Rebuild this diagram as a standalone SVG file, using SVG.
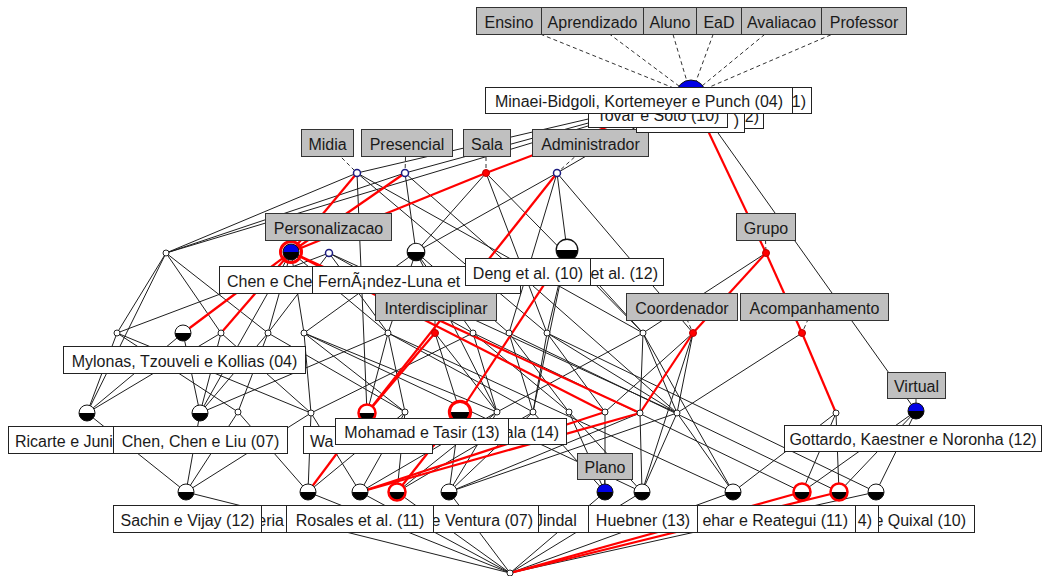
<svg xmlns="http://www.w3.org/2000/svg" width="1042" height="576" viewBox="0 0 1042 576">
<style>
  .e line{stroke:#1e1e1e;stroke-width:1}
  .r line{stroke:#f00;stroke-width:2.2}
  .d line{stroke:#333;stroke-width:1;stroke-dasharray:4 3}
  .attr rect{fill:#c0c0c0;stroke:#333;stroke-width:1}
  .obj rect{fill:#fff;stroke:#222;stroke-width:1}
  text{font-family:"Liberation Sans",Arial,sans-serif;font-size:16px;fill:#1a1a1a}
  .c{text-anchor:middle}
  .en{text-anchor:end}
</style>
<defs>
  <g id="half"><circle r="8" fill="#fff"/><path d="M-8,0 A8,8 0 0 0 8,0 Z" fill="#000"/><circle r="8" fill="none" stroke="#111"/></g>
  <g id="halfR"><circle r="8" fill="#fff"/><path d="M-8,0 A8,8 0 0 0 8,0 Z" fill="#000"/><circle r="8.5" fill="none" stroke="#f00" stroke-width="2.5"/></g>
  <g id="blue"><circle r="8" fill="#0000e6"/><path d="M-8,0 A8,8 0 0 0 8,0 Z" fill="#000"/><circle r="8" fill="none" stroke="#111"/></g>
  <circle id="sm" r="3" fill="#fff" stroke="#222"/>
  <circle id="sn" r="3.5" fill="#fff" stroke="#1c1c80" stroke-width="1.5"/>
  <circle id="sr" r="3.5" fill="#f00" stroke="#b00"/>
</defs>
<rect width="1042" height="576" fill="#fff"/>

<!-- connectors -->
<g id="connectors">
  <g class="d">
    <line x1="508" y1="21" x2="691" y2="95"/><line x1="592" y1="21" x2="691" y2="95"/>
    <line x1="669" y1="21" x2="691" y2="95"/><line x1="718" y1="21" x2="691" y2="95"/>
    <line x1="781" y1="21" x2="691" y2="95"/><line x1="863" y1="21" x2="691" y2="95"/>
    <line x1="327" y1="143" x2="357" y2="173"/><line x1="406" y1="143" x2="405" y2="173"/>
    <line x1="486" y1="143" x2="486" y2="173"/><line x1="590" y1="143" x2="557" y2="173"/>
    <line x1="328" y1="226" x2="291" y2="252"/><line x1="765" y1="226" x2="766" y2="253"/>
    <line x1="435" y1="307" x2="435" y2="333"/><line x1="681" y1="306" x2="693" y2="333"/>
    <line x1="814" y1="306" x2="802" y2="333"/><line x1="916" y1="385" x2="916" y2="411"/>
    <line x1="604" y1="466" x2="605" y2="492"/>
  </g>
  <g class="e">
    <line x1="691" y1="95" x2="357" y2="173"/><line x1="691" y1="95" x2="405" y2="173"/>
    <line x1="691" y1="95" x2="557" y2="173"/><line x1="691" y1="95" x2="166" y2="253"/>
    <line x1="691" y1="95" x2="916" y2="411"/>
    <line x1="357" y1="173" x2="166" y2="253"/><line x1="357" y1="173" x2="367" y2="413"/>
    <line x1="357" y1="173" x2="547" y2="333"/><line x1="357" y1="173" x2="643" y2="333"/>
    <line x1="405" y1="173" x2="166" y2="253"/><line x1="405" y1="173" x2="416" y2="252"/>
    <line x1="405" y1="173" x2="677" y2="413"/>
    <line x1="486" y1="173" x2="416" y2="252"/><line x1="486" y1="173" x2="547" y2="333"/>
    <line x1="486" y1="173" x2="643" y2="333"/>
    <line x1="557" y1="173" x2="416" y2="252"/><line x1="557" y1="173" x2="567" y2="250"/>
    <line x1="557" y1="173" x2="509" y2="333"/><line x1="557" y1="173" x2="693" y2="333"/>
    <line x1="166" y1="253" x2="117" y2="333"/><line x1="166" y1="253" x2="87" y2="413"/>
    <line x1="166" y1="253" x2="221" y2="333"/><line x1="166" y1="253" x2="268" y2="333"/>
    <line x1="291" y1="252" x2="268" y2="333"/><line x1="291" y1="252" x2="304" y2="333"/>
    <line x1="291" y1="252" x2="388" y2="333"/><line x1="291" y1="252" x2="200" y2="413"/>
    <line x1="329" y1="253" x2="117" y2="333"/><line x1="329" y1="253" x2="268" y2="333"/>
    <line x1="329" y1="253" x2="388" y2="333"/><line x1="329" y1="253" x2="473" y2="333"/>
    <line x1="329" y1="253" x2="677" y2="413"/>
    <line x1="416" y1="252" x2="304" y2="333"/><line x1="416" y1="252" x2="388" y2="333"/>
    <line x1="416" y1="252" x2="473" y2="333"/><line x1="416" y1="252" x2="509" y2="333"/>
    <line x1="416" y1="252" x2="497" y2="412"/>
    <line x1="567" y1="250" x2="547" y2="333"/><line x1="567" y1="250" x2="643" y2="333"/>
    <line x1="567" y1="250" x2="533" y2="412"/>
    <line x1="766" y1="253" x2="643" y2="333"/>
    <line x1="117" y1="333" x2="87" y2="413"/><line x1="117" y1="333" x2="238" y2="412"/>
    <line x1="117" y1="333" x2="311" y2="413"/>
    <line x1="183" y1="333" x2="87" y2="413"/><line x1="183" y1="333" x2="200" y2="413"/>
    <line x1="221" y1="333" x2="87" y2="413"/><line x1="221" y1="333" x2="200" y2="413"/>
    <line x1="221" y1="333" x2="311" y2="413"/>
    <line x1="268" y1="333" x2="200" y2="413"/><line x1="268" y1="333" x2="238" y2="412"/>
    <line x1="268" y1="333" x2="405" y2="412"/>
    <line x1="304" y1="333" x2="311" y2="413"/><line x1="304" y1="333" x2="405" y2="412"/>
    <line x1="304" y1="333" x2="497" y2="412"/><line x1="304" y1="333" x2="642" y2="492"/>
    <line x1="388" y1="333" x2="367" y2="413"/><line x1="388" y1="333" x2="405" y2="412"/>
    <line x1="388" y1="333" x2="533" y2="412"/><line x1="388" y1="333" x2="733" y2="492"/>
    <line x1="388" y1="333" x2="200" y2="413"/>
    <line x1="435" y1="333" x2="460" y2="412"/><line x1="435" y1="333" x2="497" y2="412"/>
    <line x1="473" y1="333" x2="311" y2="413"/><line x1="473" y1="333" x2="497" y2="412"/>
    <line x1="473" y1="333" x2="569" y2="412"/><line x1="473" y1="333" x2="802" y2="492"/>
    <line x1="509" y1="333" x2="533" y2="412"/><line x1="509" y1="333" x2="569" y2="412"/>
    <line x1="509" y1="333" x2="839" y2="492"/>
    <line x1="547" y1="333" x2="533" y2="412"/><line x1="547" y1="333" x2="605" y2="412"/>
    <line x1="547" y1="333" x2="677" y2="413"/><line x1="547" y1="333" x2="876" y2="492"/>
    <line x1="643" y1="333" x2="497" y2="412"/><line x1="643" y1="333" x2="640" y2="413"/>
    <line x1="643" y1="333" x2="677" y2="413"/><line x1="643" y1="333" x2="733" y2="492"/>
    <line x1="693" y1="333" x2="677" y2="413"/><line x1="693" y1="333" x2="605" y2="412"/>
    <line x1="693" y1="333" x2="642" y2="492"/>
    <line x1="802" y1="333" x2="677" y2="413"/>
    <line x1="87" y1="413" x2="186" y2="492"/><line x1="200" y1="413" x2="186" y2="492"/>
    <line x1="238" y1="412" x2="186" y2="492"/><line x1="311" y1="413" x2="186" y2="492"/>
    <line x1="238" y1="412" x2="308" y2="492"/><line x1="311" y1="413" x2="308" y2="492"/>
    <line x1="405" y1="412" x2="308" y2="492"/>
    <line x1="311" y1="413" x2="360" y2="492"/><line x1="405" y1="412" x2="360" y2="492"/>
    <line x1="497" y1="412" x2="360" y2="492"/>
    <line x1="405" y1="412" x2="397" y2="492"/><line x1="497" y1="412" x2="397" y2="492"/>
    <line x1="533" y1="412" x2="397" y2="492"/>
    <line x1="460" y1="412" x2="449" y2="492"/><line x1="497" y1="412" x2="449" y2="492"/>
    <line x1="533" y1="412" x2="449" y2="492"/><line x1="640" y1="413" x2="449" y2="492"/>
    <line x1="677" y1="413" x2="449" y2="492"/>
    <line x1="533" y1="412" x2="605" y2="492"/><line x1="605" y1="412" x2="605" y2="492"/>
    <line x1="569" y1="412" x2="605" y2="492"/>
    <line x1="569" y1="412" x2="642" y2="492"/><line x1="640" y1="413" x2="642" y2="492"/>
    <line x1="677" y1="413" x2="642" y2="492"/>
    <line x1="677" y1="413" x2="733" y2="492"/><line x1="836" y1="413" x2="733" y2="492"/>
    <line x1="836" y1="413" x2="802" y2="492"/><line x1="916" y1="411" x2="802" y2="492"/>
    <line x1="836" y1="413" x2="839" y2="492"/><line x1="916" y1="411" x2="839" y2="492"/>
    <line x1="916" y1="411" x2="876" y2="492"/>
    <line x1="186" y1="492" x2="510" y2="573"/><line x1="308" y1="492" x2="510" y2="573"/>
    <line x1="360" y1="492" x2="510" y2="573"/><line x1="397" y1="492" x2="510" y2="573"/>
    <line x1="449" y1="492" x2="510" y2="573"/><line x1="605" y1="492" x2="510" y2="573"/>
    <line x1="642" y1="492" x2="510" y2="573"/><line x1="733" y1="492" x2="510" y2="573"/>
    <line x1="876" y1="492" x2="510" y2="573"/>
  </g>
  <g class="r">
    <line x1="691" y1="95" x2="486" y2="173"/><line x1="486" y1="173" x2="291" y2="252"/>
    <line x1="357" y1="173" x2="291" y2="252"/><line x1="405" y1="173" x2="291" y2="252"/>
    <line x1="691" y1="95" x2="766" y2="253"/><line x1="766" y1="253" x2="693" y2="333"/>
    <line x1="693" y1="333" x2="640" y2="413"/><line x1="766" y1="253" x2="802" y2="333"/>
    <line x1="802" y1="333" x2="836" y2="413"/>
    <line x1="291" y1="252" x2="183" y2="333"/><line x1="291" y1="252" x2="221" y2="333"/>
    <line x1="291" y1="252" x2="605" y2="412"/><line x1="291" y1="252" x2="640" y2="413"/>
    <line x1="557" y1="173" x2="367" y2="413"/><line x1="435" y1="333" x2="367" y2="413"/>
    <line x1="567" y1="250" x2="460" y2="412"/><line x1="460" y1="412" x2="397" y2="492"/>
    <line x1="367" y1="413" x2="308" y2="492"/>
    <line x1="605" y1="412" x2="360" y2="492"/><line x1="640" y1="413" x2="360" y2="492"/>
    <line x1="510" y1="573" x2="802" y2="492"/><line x1="510" y1="573" x2="839" y2="492"/>
  </g>
</g>

<!-- concept nodes -->
<g id="n-top"><circle cx="691" cy="95" r="15" fill="#0000e6" stroke="#111"/></g>
<g id="n-midia"><use href="#sn" x="357" y="173"/></g>
<g id="n-presencial"><use href="#sn" x="405" y="173"/></g>
<g id="n-sala"><use href="#sr" x="486" y="173"/></g>
<g id="n-administrador"><use href="#sn" x="557" y="173"/></g>
<g id="n-l3a"><use href="#sm" x="166" y="253"/></g>
<g id="n-personalizacao"><circle cx="291" cy="252" r="10.5" fill="none" stroke="#f00" stroke-width="3"/><use href="#blue" x="291" y="252"/></g>
<g id="n-l3c"><use href="#sn" x="329" y="253"/></g>
<g id="n-l3d"><use href="#half" transform="translate(416 252) scale(1.1)"/></g>
<g id="n-l3e"><use href="#half" transform="translate(567 250) scale(1.35)"/></g>
<g id="n-grupo"><use href="#sr" x="766" y="253"/></g>
<g id="n-l4a"><use href="#sm" x="117" y="333"/></g>
<g id="n-l4b"><use href="#half" x="183" y="333"/></g>
<g id="n-l4c"><use href="#sm" x="221" y="333"/></g>
<g id="n-l4d"><use href="#sm" x="268" y="333"/></g>
<g id="n-l4e"><use href="#sm" x="304" y="333"/></g>
<g id="n-l4f"><use href="#sm" x="388" y="333"/></g>
<g id="n-interdisciplinar"><use href="#sr" x="435" y="333"/></g>
<g id="n-l4h"><use href="#sm" x="473" y="333"/></g>
<g id="n-l4i"><use href="#sm" x="509" y="333"/></g>
<g id="n-l4j"><use href="#sm" x="547" y="333"/></g>
<g id="n-l4k"><use href="#sm" x="643" y="333"/></g>
<g id="n-coordenador"><use href="#sr" x="693" y="333"/></g>
<g id="n-acompanhamento"><use href="#sr" x="802" y="333"/></g>
<g id="n-l5a"><use href="#half" x="87" y="413"/></g>
<g id="n-l5b"><use href="#half" x="200" y="413"/></g>
<g id="n-l5c"><use href="#sm" x="238" y="412"/></g>
<g id="n-l5d"><use href="#sm" x="311" y="413"/></g>
<g id="n-l5e"><use href="#halfR" x="367" y="413"/></g>
<g id="n-l5f"><use href="#sm" x="405" y="412"/></g>
<g id="n-l5g"><use href="#halfR" transform="translate(460 412) scale(1.25)"/></g>
<g id="n-l5h"><use href="#sm" x="497" y="412"/></g>
<g id="n-l5i"><use href="#sm" x="533" y="412"/></g>
<g id="n-l5j"><use href="#sm" x="569" y="412"/></g>
<g id="n-l5k"><use href="#sm" x="605" y="412"/></g>
<g id="n-l5l"><use href="#sm" x="640" y="413"/></g>
<g id="n-l5m"><use href="#sm" x="677" y="413"/></g>
<g id="n-l5n"><use href="#sm" x="836" y="413"/></g>
<g id="n-virtual"><use href="#blue" x="916" y="411"/></g>
<g id="n-l6a"><use href="#half" x="186" y="492"/></g>
<g id="n-l6b"><use href="#half" x="308" y="492"/></g>
<g id="n-l6c"><use href="#half" x="360" y="492"/></g>
<g id="n-l6d"><use href="#halfR" x="397" y="492"/></g>
<g id="n-l6e"><use href="#half" x="449" y="492"/></g>
<g id="n-plano"><use href="#blue" x="605" y="492"/></g>
<g id="n-l6g"><use href="#half" x="642" y="492"/></g>
<g id="n-l6h"><use href="#half" x="733" y="492"/></g>
<g id="n-l6i"><use href="#halfR" x="802" y="492"/></g>
<g id="n-l6j"><use href="#halfR" x="839" y="492"/></g>
<g id="n-l6k"><use href="#half" x="876" y="492"/></g>
<g id="n-bottom"><use href="#sm" x="510" y="573"/></g>

<!-- attribute labels -->
<g class="attr">
  <g id="a-ensino"><rect x="476.5" y="7.5" width="65" height="27"/><text x="509" y="28" class="c">Ensino</text></g>
  <g id="a-aprendizado"><rect x="541.5" y="7.5" width="102" height="27"/><text x="592.5" y="28" class="c">Aprendizado</text></g>
  <g id="a-aluno"><rect x="643.5" y="7.5" width="53" height="27"/><text x="670" y="28" class="c">Aluno</text></g>
  <g id="a-ead"><rect x="696.5" y="7.5" width="45" height="27"/><text x="719" y="28" class="c">EaD</text></g>
  <g id="a-avaliacao"><rect x="741.5" y="7.5" width="80" height="27"/><text x="781.5" y="28" class="c">Avaliacao</text></g>
  <g id="a-professor"><rect x="821.5" y="7.5" width="85" height="27"/><text x="864" y="28" class="c">Professor</text></g>
  <g id="a-midia"><rect x="301.5" y="129.5" width="52" height="27"/><text x="327.5" y="150" class="c">Midia</text></g>
  <g id="a-presencial"><rect x="361.5" y="129.5" width="91" height="27"/><text x="407" y="150" class="c">Presencial</text></g>
  <g id="a-sala"><rect x="463.5" y="129.5" width="47" height="27"/><text x="487" y="150" class="c">Sala</text></g>
  <g id="a-administrador"><rect x="532.5" y="129.5" width="116" height="27"/><text x="590.5" y="150" class="c">Administrador</text></g>
  <g id="a-personalizacao"><rect x="265.5" y="213.5" width="126" height="27"/><text x="328.5" y="234" class="c">Personalizacao</text></g>
  <g id="a-grupo"><rect x="736.5" y="213.5" width="59" height="27"/><text x="766" y="234" class="c">Grupo</text></g>
</g>

<!-- object labels -->
<g class="obj">
  <g id="o-top-d"><rect x="650.5" y="101.5" width="113" height="27"/><text x="759" y="122" class="en">2)</text></g>
  <g id="o-top-c"><rect x="636.5" y="105.5" width="108" height="27"/><text x="739" y="126" class="en">)</text></g>
  <g id="o-tovar"><rect x="588.5" y="100.5" width="139" height="27"/><text x="658" y="121" class="c">Tovar e Soto (10)</text></g>
  <g id="o-top-b"><rect x="700.5" y="87.5" width="111" height="26"/><text x="806" y="107" class="en">1)</text></g>
  <g id="o-minaei"><rect x="485.5" y="87.5" width="307" height="26"/><text x="639" y="107" class="c">Minaei-Bidgoli, Kortemeyer e Punch (04)</text></g>
  <g id="o-chen"><rect x="219.5" y="266.5" width="93" height="27"/><text x="227" y="287">Chen e Che</text></g>
  <g id="o-l3b"><rect x="590.5" y="258.5" width="73" height="27"/><text x="658" y="279" class="en">et al. (12)</text></g>
  <g id="o-fernandez"><rect x="312.5" y="266.5" width="208" height="27"/><text x="318" y="287">FernÃ¡ndez-Luna et</text></g>
  <g id="o-deng"><rect x="465.5" y="258.5" width="125" height="27"/><text x="528" y="279" class="c">Deng et al. (10)</text></g>
</g>
<g class="attr">
  <g id="a-interdisciplinar"><rect x="375.5" y="293.5" width="121" height="27"/><text x="436" y="314" class="c">Interdisciplinar</text></g>
  <g id="a-coordenador"><rect x="626.5" y="293.5" width="111" height="27"/><text x="682" y="314" class="c">Coordenador</text></g>
  <g id="a-acompanhamento"><rect x="740.5" y="293.5" width="148" height="27"/><text x="814.5" y="314" class="c">Acompanhamento</text></g>
  <g id="a-virtual"><rect x="887.5" y="372.5" width="58" height="26"/><text x="916.5" y="392" class="c">Virtual</text></g>
</g>
<g class="obj">
  <g id="o-mylonas"><rect x="63.5" y="346.5" width="242" height="27"/><text x="184.5" y="367" class="c">Mylonas, Tzouveli e Kollias (04)</text></g>
  <g id="o-ricarte"><rect x="8.5" y="426.5" width="105" height="27"/><text x="15" y="447">Ricarte e Juni</text></g>
  <g id="o-chenliu"><rect x="113.5" y="426.5" width="174" height="27"/><text x="200.5" y="447" class="c">Chen, Chen e Liu (07)</text></g>
  <g id="o-wa"><rect x="303.5" y="426.5" width="129" height="27"/><text x="310" y="447">Wa</text></g>
  <g id="o-ala"><rect x="480.5" y="418.5" width="86" height="26"/><text x="559" y="438" class="en">ala (14)</text></g>
  <g id="o-mohamad"><rect x="335.5" y="418.5" width="173" height="26"/><text x="422" y="438" class="c">Mohamad e Tasir (13)</text></g>
  <g id="o-gottardo"><rect x="784.5" y="425.5" width="257" height="26"/><text x="913" y="445" class="c">Gottardo, Kaestner e Noronha (12)</text></g>
</g>
<g class="attr">
  <g id="a-plano"><rect x="577.5" y="453.5" width="55" height="26"/><text x="605" y="473" class="c">Plano</text></g>
</g>
<g class="obj">
  <g id="o-eria"><rect x="240.5" y="505.5" width="46" height="27"/><text x="284" y="526" class="en">eria</text></g>
  <g id="o-sachin"><rect x="113.5" y="505.5" width="148" height="27"/><text x="187.5" y="526" class="c">Sachin e Vijay (12)</text></g>
  <g id="o-jindal"><rect x="520.5" y="505.5" width="68" height="27"/><text x="535" y="526">Jindal</text></g>
  <g id="o-ventura"><rect x="410.5" y="505.5" width="128" height="27"/><text x="533" y="526" class="en">e Ventura (07)</text></g>
  <g id="o-rosales"><rect x="286.5" y="505.5" width="147" height="27"/><text x="360" y="526" class="c">Rosales et al. (11)</text></g>
  <g id="o-quixal"><rect x="860.5" y="505.5" width="114" height="27"/><text x="966" y="526" class="en">e Quixal (10)</text></g>
  <g id="o-l6x"><rect x="830.5" y="505.5" width="48" height="27"/><text x="872" y="526" class="en">4)</text></g>
  <g id="o-reategui"><rect x="680.5" y="505.5" width="175" height="27"/><text x="848" y="526" class="en">ehar e Reategui (11)</text></g>
  <g id="o-huebner"><rect x="588.5" y="505.5" width="109" height="27"/><text x="643" y="526" class="c">Huebner (13)</text></g>
</g>
</svg>
